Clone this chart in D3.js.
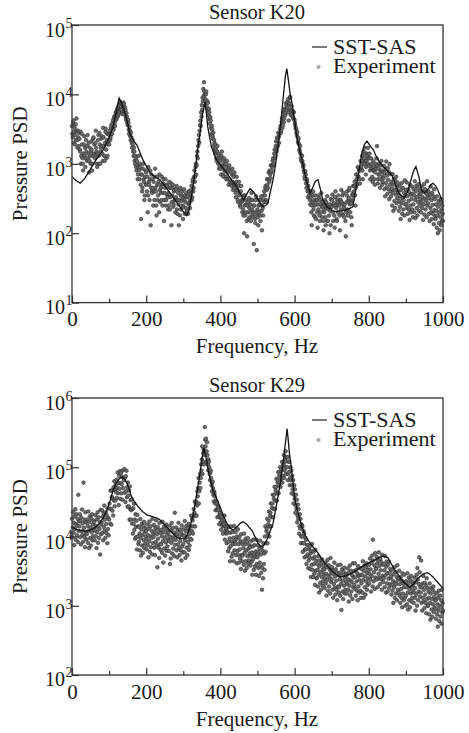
<!DOCTYPE html>
<html>
<head>
<meta charset="utf-8">
<script src="https://cdn.jsdelivr.net/npm/d3@7"></script>
<style>
  html, body { margin: 0; padding: 0; background: #fff; }
</style>
</head>
<body>
<div id="chart"></div>
<script>
// Pressure PSD, two sensors: SST-SAS line vs experiment scatter

const FONT = "'Liberation Serif', 'Times New Roman', Times, serif";

const xTicks      = [0, 100, 200, 300, 400, 500, 600, 700, 800, 900, 1000];
const xTickLabels = [0, 200, 400, 600, 800, 1000];
const k20Decades  = [1, 2, 3, 4, 5];
const k29Decades  = [2, 3, 4, 5, 6];
const legendNames = ["SST-SAS", "Experiment"];

// SST-SAS, sensor K20 [Hz, PSD]
const k20Line = [
  [0,650],[10,580],[22,525],[35,620],[48,810],[65,1150],[84,1580],[100,2400],[111,3400],[120,6000],
  [127,8900],[135,7200],[143,5400],[150,3800],[156,2760],[165,2200],[175,1860],[192,1120],[210,740],[225,640],
  [237,590],[250,480],[264,380],[280,290],[291,240],[303,195],[309,180],[315,210],[320,300],[327,500],
  [332,810],[340,1800],[345,2750],[350,4500],[354,5900],[358,7600],[362,5500],[366,3400],[371,2400],[376,1740],
  [390,1120],[405,900],[417,740],[430,580],[444,465],[455,360],[462,300],[470,360],[480,440],[490,390],
  [498,330],[507,270],[515,240],[522,250],[528,270],[535,400],[542,590],[549,1000],[555,1740],[561,3200],
  [566,5900],[571,11000],[575,18000],[579,23500],[584,15000],[588,10000],[593,7400],[600,4200],[606,2450],[613,1600],
  [620,1120],[627,760],[634,525],[642,380],[650,470],[656,560],[663,590],[670,420],[676,300],[687,240],
  [700,215],[709,205],[722,208],[736,215],[750,230],[757,240],[764,400],[771,650],[776,950],[781,1400],
  [788,1900],[795,2130],[803,1850],[812,1590],[821,1250],[830,1030],[848,810],[862,690],[871,520],[880,380],
  [890,340],[897,330],[906,420],[916,650],[922,820],[927,910],[935,650],[942,420],[951,380],[960,430],
  [967,500],[973,525],[980,480],[986,420],[993,340],[1000,270]
];

// Experiment, sensor K20: one PSD value per Hz, rows of 20 Hz starting at 0
const k20Exp = [
  3500,2700,2400,3900,4200,2000,2900,3300,1900,2600,3700,2200,4500,3000,2200,1700,3000,2400,1800,2800,
  2300,1600,1500,2900,1000,1300,2700,1900,1200,1000,800,1400,1900,2500,1300,1700,900,1200,2200,1500,
  1100,1800,2600,1200,1400,2000,750,1100,1700,1300,1000,1500,2100,1600,800,1000,1300,2300,2400,1400,
  1900,1300,1200,2000,3000,1700,1500,1000,900,1400,2200,2600,1300,1000,2800,1900,1000,1500,1700,2300,
  2500,1800,1400,1100,3300,2400,1800,1300,1100,2000,2900,3200,1600,1200,2200,2700,1300,1900,2700,2100,
  1900,2600,3000,2200,2400,3300,3600,2700,2700,3800,4200,3200,3100,4500,4800,3900,3500,5000,5500,4300,
  4500,5800,6200,4800,5000,6500,7000,5300,5600,7300,7800,6100,6000,7500,7400,5500,5200,6600,6800,7600,
  7200,5800,5200,6500,6000,4700,4300,5400,4800,3900,3600,4300,3900,3100,2700,3400,3000,2500,2200,2800,
  2400,2000,1700,2200,1900,1500,1300,1700,1500,1100,1000,1300,1200,900,800,1100,950,600,700,900,
  1300,800,600,1000,900,500,160,700,700,400,450,850,1000,600,550,300,350,650,800,500,
  750,500,400,650,200,350,900,550,500,300,600,800,130,450,700,400,380,600,450,250,
  550,400,300,650,850,450,400,250,180,500,650,300,350,550,500,200,700,420,280,380,
  450,300,650,500,250,380,520,600,150,300,380,450,600,250,300,500,480,350,330,220,
  380,250,550,450,220,330,450,520,130,280,350,450,500,240,260,400,420,300,300,200,
  330,430,480,220,190,300,380,260,130,420,300,180,450,350,220,290,350,400,250,160,
  320,240,430,300,190,350,280,230,380,200,210,330,340,190,260,400,400,280,230,300,
  360,420,480,300,330,550,600,400,450,650,800,550,650,900,1000,700,950,1300,1500,1200,
  1800,2200,2600,2000,3000,3600,4200,3500,5500,4800,7000,6000,9000,8000,12000,9500,15000,11000,10000,8000,
  8500,10000,11000,7500,6500,8000,7500,5800,5000,6200,5500,4400,3800,4700,4200,3300,2700,3500,3100,2500,
  2300,2800,1800,2200,2000,1600,1400,1900,1600,1200,1100,1500,1800,1200,1000,1400,1300,850,900,1200,
  1100,850,700,1300,1500,950,900,700,650,1100,1200,800,800,1000,1000,650,600,900,1100,750,
  750,600,500,850,950,550,600,800,800,500,480,700,850,550,420,700,650,450,750,500,
  500,380,330,550,650,420,420,300,280,480,550,350,380,250,240,400,480,280,300,200,
  300,220,180,350,100,250,350,180,200,300,260,150,90,250,280,200,160,320,230,170,
  260,200,150,300,380,220,300,180,170,250,70,200,250,160,140,300,340,200,57,180,
  220,170,130,250,300,200,260,180,150,300,340,210,110,250,230,180,300,350,400,280,
  350,450,480,300,280,420,600,500,450,600,750,580,550,800,700,620,950,750,800,950,
  900,1100,1200,950,1000,1400,1600,1200,1300,1800,2100,1500,1600,2400,2200,1800,2800,2400,2000,2600,
  2800,3200,3500,2800,3000,4000,4500,3300,3600,4800,5500,4000,4500,6200,6000,5000,5500,7500,7000,6000,
  6500,7800,8500,5500,4200,7000,7500,9000,9200,6000,5000,5800,6800,5200,5800,4800,4500,5600,5500,4400,
  4200,3800,3500,3200,3200,2800,2600,2900,2400,2100,2000,2300,1900,1600,1500,1800,1400,1200,1100,1300,
  1300,1100,1000,900,950,800,750,650,600,780,700,520,450,600,550,400,330,480,420,350,
  400,300,260,380,330,200,130,250,280,350,400,220,180,300,250,170,350,260,160,300,
  300,200,120,260,220,350,320,180,150,300,260,200,380,240,170,280,240,150,110,220,
  200,260,300,170,130,280,230,150,340,250,150,220,250,180,100,260,210,130,310,240,
  240,300,360,200,150,260,270,180,120,330,400,250,230,160,150,300,280,200,350,260,
  250,180,110,300,300,220,420,280,190,350,260,180,380,240,170,260,220,150,90,200,
  280,350,400,220,180,300,320,420,450,260,200,280,270,170,130,350,300,380,480,350,
  400,480,550,350,250,450,700,600,500,700,900,650,650,850,800,600,520,800,1100,850,
  900,1100,1300,800,600,1000,1500,1200,1000,1400,1700,1100,700,900,1100,1400,1300,1000,1700,1200,
  950,1200,1400,800,600,900,1200,1000,850,650,550,800,1100,900,800,600,500,750,1000,850,
  850,1200,1800,950,520,600,700,850,1000,700,450,600,780,950,1100,800,500,550,650,750,
  620,930,430,740,340,840,530,1080,460,680,370,870,590,430,770,310,990,500,710,400,
  340,550,440,250,710,380,210,500,610,290,420,230,570,360,650,270,460,320,530,400,
  380,210,290,480,240,340,160,420,270,530,190,320,450,220,300,380,180,580,260,350,
  420,260,540,230,340,190,430,290,220,390,155,500,250,360,200,310,470,220,370,170,
  260,430,350,200,560,300,165,400,480,230,330,180,450,280,510,210,360,250,410,310,
  370,200,280,470,230,330,155,400,260,510,185,310,430,220,295,370,170,560,250,340,
  270,400,190,320,150,360,230,470,200,300,160,380,255,190,340,135,430,215,310,175,
  160,260,210,120,340,180,100,240,290,140,200,110,270,170,310,130,220,150,250,190,
  150
];

// SST-SAS, sensor K29 [Hz, PSD]
const k29Line = [
  [0,13700],[10,12800],[22,12300],[35,12000],[48,12300],[62,13500],[75,15600],[85,19000],[94,24000],[103,33000],
  [111,47000],[120,60000],[127,68000],[134,72000],[141,68000],[148,59000],[155,46000],[161,37000],[170,31000],[178,27000],
  [190,23000],[202,20500],[215,19500],[229,18500],[237,17500],[245,15600],[255,13800],[264,12300],[273,10800],[282,9700],
  [293,9300],[305,9400],[312,11000],[318,13700],[325,19000],[332,30000],[338,48000],[345,82000],[350,130000],[355,190000],
  [360,150000],[367,91000],[373,65000],[380,47000],[390,35000],[399,27000],[408,20000],[417,15600],[425,13500],[434,12300],
  [445,13800],[453,15500],[461,16300],[470,15200],[478,13500],[485,12300],[493,10000],[501,8100],[507,7300],[512,7100],
  [518,7600],[525,8900],[533,11500],[542,15600],[548,23000],[555,37000],[562,62000],[569,115000],[575,220000],[580,360000],
  [586,160000],[593,82000],[597,50000],[601,34000],[610,21000],[620,13700],[628,10500],[636,8900],[650,7000],[663,5800],
  [676,4500],[690,3650],[706,3000],[722,2600],[738,2700],[755,2950],[772,3400],[790,3900],[805,4300],[817,4600],
  [828,5000],[839,5200],[846,5100],[852,4900],[861,4000],[870,3300],[880,2800],[889,2350],[900,2050],[911,1860],
  [922,2100],[933,2500],[945,2850],[957,3000],[965,2850],[973,2600],[985,2200],[997,1860],[1000,1800]
];

// Experiment, sensor K29: one PSD value per Hz, rows of 20 Hz starting at 0
const k29Exp = [
  18000,9800,13500,22500,11300,15800,7500,19500,12800,24800,9000,15000,21000,10500,14300,18000,8300,40000,12000,16500,
  14000,21000,9800,16800,7700,18900,11900,24500,10500,15400,8400,60000,13300,9800,17500,7000,22400,11200,16100,9100,
  10800,17600,14200,8100,23000,12200,6800,16200,19600,9500,13500,7400,18200,11500,20900,8800,14900,10100,16900,12800,
  16200,8800,12200,20300,10100,14200,6800,17600,11500,22300,8100,13500,18900,9500,12800,16200,5500,24300,10800,14900,
  16000,24000,11200,19200,8800,21600,13600,28000,12000,17600,9600,22400,15200,11200,20000,8000,25600,12800,18400,10400,
  17600,29900,25200,15300,45900,25200,14800,37200,46400,23500,35000,20100,51300,33200,62800,27300,47300,33000,56300,43700,
  66000,36000,50000,84000,42000,59000,28500,75000,49000,88000,35000,59000,83000,42000,57000,73000,34000,90000,50000,70000,
  65000,94000,42700,70800,31400,74300,45000,89000,36800,51700,27000,60200,39000,27300,46300,17500,52800,24800,33400,17600,
  24000,34500,15400,25200,11000,25600,15300,29800,12400,17600,9300,21000,13800,9800,16900,6500,20500,10000,14000,7800,
  8400,13700,11000,6300,17900,9500,5300,12600,15200,7400,10500,5800,14200,8900,16300,6800,11600,7900,13100,10000,
  12000,6500,9000,15000,7500,10500,5000,13000,8500,16500,6000,10000,14000,7000,9500,12000,5500,18000,8000,11000,
  9800,14700,6900,11800,5400,13200,8300,17200,7400,10800,3600,13700,9300,6900,12300,4900,15700,7800,11300,6400,
  7700,12500,10100,5800,16300,8600,4200,11500,13900,6700,9600,5300,13000,8200,14900,6200,10600,7200,12000,9100,
  11400,6200,8600,14300,4000,10000,4800,12400,8100,15700,5700,9500,13300,6700,9000,11400,5200,22000,7600,10500,
  9000,13500,6300,10800,5000,12200,7700,15800,6800,9900,5400,12600,8600,6300,11300,4500,14400,7200,10400,5900,
  7800,12700,10300,5900,16700,8800,4900,11800,14200,6900,9800,5400,13200,8300,15200,6400,10800,7400,12300,9300,
  14000,20000,9000,12000,18000,17000,11000,14000,25000,20000,22000,32000,14000,20000,30000,32000,20000,28000,45000,38000,
  50000,70000,30000,45000,60000,80000,50000,70000,110000,90000,130000,200000,80000,120000,160000,180000,110000,150000,380000,250000,
  200000,260000,120000,170000,230000,150000,110000,90000,130000,120000,100000,80000,65000,85000,90000,70000,55000,45000,60000,62000,
  50000,40000,32000,45000,42000,38000,30000,24000,33000,32000,30000,24000,19000,27000,26000,24000,19000,15000,21000,22000,
  20000,16000,12500,18000,19000,17000,14000,11000,15000,16000,15000,20000,9000,12000,14000,13000,11000,8000,12000,14000,
  11400,6100,8400,13800,6800,9400,4400,11300,7300,14000,5100,8400,11600,5700,7700,9600,4400,14200,6300,8600,
  7800,11600,5400,9100,4100,10000,6200,12700,5400,7800,4200,9700,6500,4800,8500,3400,10800,5400,7800,4400,
  5300,8500,6800,3900,11000,5800,3200,7700,9300,4400,6300,3500,8400,5200,9500,4000,6700,4500,7500,5700,
  7000,3800,5200,8600,4300,5900,2800,7200,4700,9000,3300,5400,7500,3700,5100,6100,2800,9000,4000,5500,
  5000,7500,3500,6000,2700,6700,4200,8700,3700,5500,3000,7000,1700,3500,6250,2500,8000,4000,5700,3300,
  10000,14000,6000,8000,12000,13000,18000,8000,11000,15000,17000,23000,10000,14000,20000,22000,30000,14000,19000,26000,
  30000,40000,19000,25000,35000,40000,52000,25000,33000,46000,52000,68000,33000,42000,60000,65000,85000,42000,55000,75000,
  80000,100000,52000,66000,90000,95000,120000,60000,75000,105000,110000,150000,70000,90000,130000,120000,170000,80000,100000,140000,
  100000,140000,65000,80000,120000,85000,120000,55000,70000,100000,65000,90000,42000,55000,75000,48000,65000,30000,40000,55000,
  35000,48000,22000,28000,40000,25000,34000,16000,20000,29000,18000,25000,11000,14000,21000,13000,18000,8000,10000,15000,
  10000,14000,6000,8000,12000,8000,11000,5000,6500,9500,6500,9000,4000,5200,7500,5500,7500,3500,4500,6500,
  5000,7200,3400,5700,2600,6200,3900,7800,3300,4800,2600,6000,4000,2900,5100,2000,6400,3200,4500,2500,
  2500,4000,3300,1900,5200,2800,1550,3700,4500,2150,3050,1700,4100,2600,4700,1950,3300,2250,3750,2850,
  3350,1800,2500,4200,2100,2900,1400,3600,2350,4600,1650,2750,3850,1900,2600,3300,1500,4900,2200,3000,
  2400,3600,1700,2900,1300,3250,2050,4200,1800,2650,1450,3350,2300,1700,3000,1200,3850,1900,2750,1550,
  1850,3000,2400,1400,3900,2050,870,2750,3350,1600,2300,1250,3100,1950,3550,1500,2550,1700,2900,2200,
  2750,1500,2050,3450,1700,2400,1150,3000,1950,3800,1400,2300,3200,1600,2200,2750,1250,4100,1850,2550,
  3150,2000,4100,1750,2600,1400,3300,2250,1650,2950,1200,3750,1900,2700,1550,2350,3500,1650,2800,1300,
  2100,3400,2750,1550,4400,2350,1300,3150,3800,1850,2650,1450,3600,2250,4100,1700,2950,2000,3300,2500,
  3850,2100,2900,4800,2400,3350,1600,4150,2700,5300,1900,9000,4500,2250,3050,3850,1750,5750,2550,3500,
  3400,5100,2400,4100,1850,4600,2900,5900,2550,3750,2050,4750,3250,2400,4250,1700,5450,2700,3900,2200,
  2500,4000,3250,1850,5200,2750,1550,3650,4350,2100,2950,1600,3900,2450,4350,1800,3000,2050,3400,2550,
  2650,1450,2000,3300,1650,2300,1100,2850,1850,3600,1300,2150,3050,1500,2050,2600,1200,3850,1700,2350,
  2500,1550,3200,1400,2050,1100,2600,1750,1300,2300,950,2950,1500,2100,1200,1850,2800,1300,2200,1000,
  1400,2250,1850,1050,2950,1550,880,2100,2550,1200,1750,950,2350,1500,2700,1150,1900,1300,2200,1650,
  2050,1100,1550,2550,1300,1800,850,2200,1450,2800,1000,3500,2400,1200,1600,2050,5000,3050,1350,1850,
  1550,4500,1100,1850,850,2100,1300,2700,1150,1700,930,2150,1450,1100,1950,780,2500,1250,1800,1000,
  1000,1600,1300,750,2100,1100,630,1500,1800,880,1250,690,1700,1050,1900,810,1350,940,1550,1200,
  1200,650,900,1500,750,1050,500,1300,850,1650,600,1000,1400,700,950,1200,550,1700,800,1100,
  850
];

const W = 469, H = 733;
const svg = d3.select("#chart").append("svg")
  .attr("width", W).attr("height", H).attr("font-family", FONT);

const left = 72, right = 443;
const x = d3.scaleLinear().domain([0, 1000]).range([left, right]);

function txt(g, size){
  return g.append("text").attr("font-family", FONT).attr("fill", "#1a1a1a").attr("font-size", size);
}

function panel({top, bottom, decades, line, exp, title}){
  const y = d3.scaleLog()
    .domain([Math.pow(10, decades[0]), Math.pow(10, decades[decades.length - 1])])
    .range([bottom, top]);
  const g = svg.append("g");

  // scatter: exp[i] is the PSD at i Hz
  g.append("g").selectAll("circle").data(exp).join("circle")
    .attr("cx", (d, i) => x(i)).attr("cy", d => y(d)).attr("r", 1.8)
    .attr("fill", "#6e6e6e").attr("stroke", "#262626").attr("stroke-width", 0.6);

  // model line
  g.append("path").datum(line)
    .attr("fill", "none").attr("stroke", "#111").attr("stroke-width", 1.3)
    .attr("d", d3.line().x(d => x(d[0])).y(d => y(d[1])));

  // frame
  g.append("rect").attr("x", left).attr("y", top)
    .attr("width", right - left).attr("height", bottom - top)
    .attr("fill", "none").attr("stroke", "#333").attr("stroke-width", 1.3);

  // x ticks (inward)
  const major = xTicks.filter(t => xTickLabels.includes(t));
  const minor = xTicks.filter(t => !xTickLabels.includes(t));
  g.append("g").attr("transform", `translate(0,${bottom})`)
    .call(d3.axisBottom(x).tickValues(minor).tickSize(-4).tickFormat(""))
    .call(a => a.select(".domain").remove())
    .call(a => a.selectAll("line").attr("stroke", "#333").attr("stroke-width", 1.2));
  g.append("g").attr("transform", `translate(0,${bottom})`)
    .call(d3.axisBottom(x).tickValues(major).tickSize(-7).tickFormat(d3.format("d")))
    .call(a => a.select(".domain").remove())
    .call(a => a.selectAll("line").attr("stroke", "#333").attr("stroke-width", 1.2))
    .call(a => a.attr("font-family", FONT).attr("font-size", 21))
    .call(a => a.selectAll("text").attr("y", 23.5).attr("dy", null).attr("fill", "#1a1a1a"));

  // y ticks (inward)
  const yVals = decades.map(k => Math.pow(10, k));
  g.append("g").attr("transform", `translate(${left},0)`)
    .call(d3.axisLeft(y).tickValues(yVals).tickSize(-7).tickFormat(""))
    .call(a => a.select(".domain").remove())
    .call(a => a.selectAll("line").attr("stroke", "#333").attr("stroke-width", 1.2));

  decades.forEach((k, i) => {
    const t = txt(g, 20).attr("x", 65).attr("y", y(Math.pow(10, k)) + (i === 0 ? 11 : 12))
      .attr("text-anchor", "end");
    t.append("tspan").text("10");
    t.append("tspan").attr("dy", -9).attr("font-size", 14).attr("x", 65.5)
      .attr("text-anchor", "start").text(k);
  });

  // labels
  txt(g, 20.5).attr("x", 257).attr("y", top - 6).attr("text-anchor", "middle").text(title);
  txt(g, 21).attr("x", 257).attr("y", bottom + 50.5).attr("text-anchor", "middle").text("Frequency, Hz");
  txt(g, 21).attr("transform", `translate(27,${(top + bottom) / 2}) rotate(-90)`)
    .attr("text-anchor", "middle").text("Pressure PSD");

  // legend
  g.append("line").attr("x1", 312).attr("x2", 327).attr("y1", top + 22).attr("y2", top + 22)
    .attr("stroke", "#222").attr("stroke-width", 1.2);
  txt(g, 22).attr("x", 333).attr("y", top + 28.5).text(legendNames[0]);
  g.append("circle").attr("cx", 318.5).attr("cy", top + 42).attr("r", 1.8)
    .attr("fill", "#aaa").attr("stroke", "#999").attr("stroke-width", 0.5);
  txt(g, 22).attr("x", 333).attr("y", top + 47.5).text(legendNames[1]);
}

panel({top: 25, bottom: 302.6, decades: k20Decades, line: k20Line, exp: k20Exp, title: "Sensor K20"});
panel({top: 398, bottom: 675, decades: k29Decades, line: k29Line, exp: k29Exp, title: "Sensor K29"});
</script>
</body>
</html>
